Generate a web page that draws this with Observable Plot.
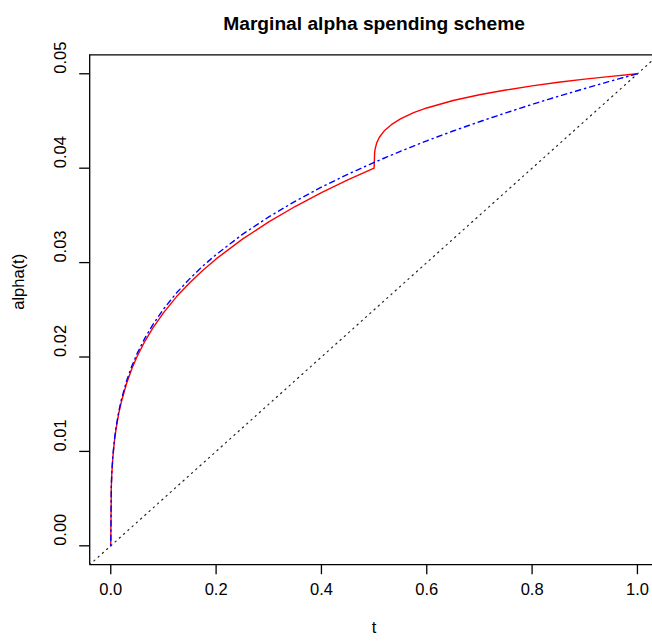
<!DOCTYPE html>
<html><head><meta charset="utf-8">
<script src="https://cdn.jsdelivr.net/npm/d3@7"></script>
<script src="https://cdn.jsdelivr.net/npm/@observablehq/plot@0.6"></script>
<style>html,body{margin:0;padding:0;background:#fff;overflow:hidden}</style>
</head><body><div id="chart"></div>
<script>
const title = "Marginal alpha spending scheme";
const xLabel = "t";
const yLabel = "alpha(t)";
const xTicks = [0, 0.2, 0.4, 0.6, 0.8, 1.0];
const xTickLabels = ["0.0", "0.2", "0.4", "0.6", "0.8", "1.0"];
const yTicks = [0, 0.01, 0.02, 0.03, 0.04, 0.05];
const yTickLabels = ["0.00", "0.01", "0.02", "0.03", "0.04", "0.05"];

// blue dot-dash curve
const blueT = [0, 0.001, 0.002, 0.004, 0.007, 0.01, 0.015, 0.02, 0.03, 0.04, 0.05, 0.065, 0.08, 0.1, 0.125, 0.15, 0.175, 0.2, 0.25, 0.3, 0.35, 0.4, 0.45, 0.5, 0.55, 0.6, 0.65, 0.7, 0.75, 0.8, 0.85, 0.9, 0.95, 1.0];
const blueAlpha = [0, 0.0063, 0.00775, 0.00954, 0.01128, 0.01256, 0.01418, 0.01546, 0.01747, 0.01904, 0.02036, 0.02202, 0.02344, 0.02506, 0.0268, 0.0283, 0.02964, 0.03085, 0.03299, 0.03484, 0.03649, 0.03799, 0.03935, 0.04061, 0.04179, 0.0429, 0.04394, 0.04492, 0.04586, 0.04676, 0.04762, 0.04844, 0.04924, 0.05];

// red solid curve
const redT = [0, 0.001, 0.002, 0.004, 0.007, 0.01, 0.015, 0.02, 0.03, 0.04, 0.05, 0.065, 0.08, 0.1, 0.125, 0.15, 0.175, 0.2, 0.25, 0.3, 0.35, 0.4, 0.45, 0.5, 0.501, 0.502, 0.505, 0.51, 0.52, 0.535, 0.55, 0.575, 0.6, 0.65, 0.7, 0.75, 0.8, 0.85, 0.9, 0.95, 1.0];
const redAlpha = [0, 0.0062, 0.00763, 0.0094, 0.01111, 0.01237, 0.01397, 0.01523, 0.0172, 0.01875, 0.02005, 0.02169, 0.02309, 0.02468, 0.0264, 0.02787, 0.02919, 0.03039, 0.03249, 0.03431, 0.03594, 0.03742, 0.03876, 0.04, 0.04165, 0.04205, 0.04268, 0.04328, 0.04400, 0.0447, 0.04522, 0.04588, 0.04638, 0.04717, 0.04778, 0.04828, 0.04872, 0.0491, 0.04943, 0.04973, 0.05];

// dotted reference diagonal
const diagT = [-0.04, 1.04];
const diagAlpha = [-0.002, 0.052];

const xDomain = [-0.04, 1.04];
const yDomain = [-0.002, 0.052];

const idx = n => d3.range(n);

const chart = Plot.plot({
  width: 652,
  height: 642,
  marginLeft: 89.2,
  marginRight: 0,
  marginTop: 54.4,
  marginBottom: 77.8,
  style: {fontFamily: "'Liberation Sans', Arial, Helvetica, sans-serif", fontSize: "16px", color: "#000", background: "#fff"},
  x: {domain: xDomain, range: [89.2, 658], axis: null},
  y: {domain: yDomain, axis: null},
  marks: [
    Plot.line(idx(diagT.length), {x: i => diagT[i], y: i => diagAlpha[i], stroke: "#222", strokeWidth: 1.2, strokeDasharray: "1.2,4.5", clip: true}),
    Plot.line(idx(redT.length), {x: i => redT[i], y: i => redAlpha[i], stroke: "#ff0000", strokeWidth: 1.4}),
    Plot.line(idx(blueT.length), {x: i => blueT[i], y: i => blueAlpha[i], stroke: "#0000ff", strokeWidth: 1.4, strokeDasharray: "1.3,4,5.3,4"}),
    Plot.ruleY([yDomain[0], yDomain[1]], {stroke: "#000", strokeWidth: 1.3}),
    Plot.ruleX([xDomain[0]], {stroke: "#000", strokeWidth: 1.3}),
    Plot.axisX({ticks: xTicks, tickSize: 10, tickFormat: () => "", label: null, anchor: "bottom", strokeWidth: 1.3}),
    Plot.axisY({ticks: yTicks, tickSize: 10, tickFormat: () => "", label: null, anchor: "left", strokeWidth: 1.3}),
    Plot.text(xTicks, {x: d => d, text: (d, i) => xTickLabels[i], frameAnchor: "bottom", dy: 30.5, fontSize: 16.5, fill: "#000"}),
    Plot.text(yTicks, {y: d => d, text: (d, i) => yTickLabels[i], frameAnchor: "left", dx: -28.7, rotate: -90, fontSize: 16.5, fill: "#000"}),
    Plot.text([title], {text: d => d, frameAnchor: "top", dx: 3, dy: -38.8, fontSize: 19.2, fontWeight: "bold", fill: "#000"}),
    Plot.text([xLabel], {text: d => d, frameAnchor: "bottom", dx: 3, dy: 68.2, fontSize: 16.5, fill: "#000"}),
    Plot.text([yLabel], {text: d => d, frameAnchor: "left", dx: -70.8, rotate: -90, fontSize: 16.5, fill: "#000"})
  ]
});
document.getElementById("chart").appendChild(chart);
</script>
</body></html>
